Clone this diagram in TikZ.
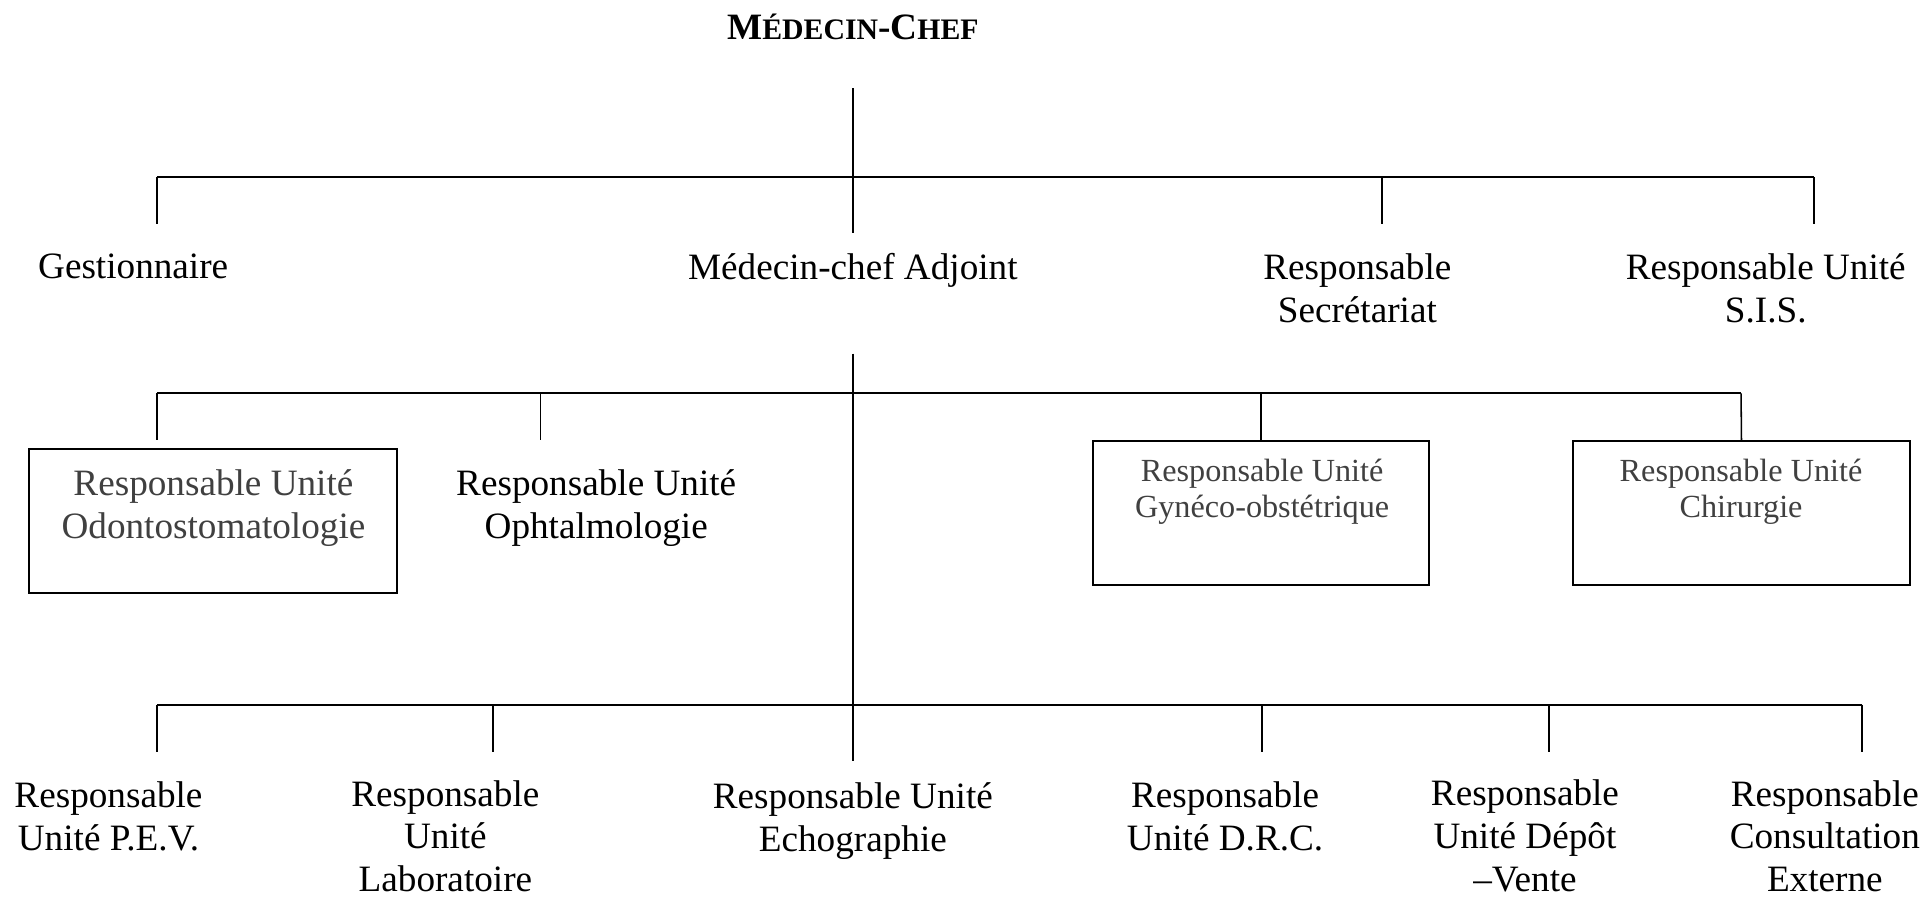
\documentclass[tikz,border=0pt]{standalone}
\usepackage{fontspec}
\setmainfont{Liberation Serif}
\usepackage{tikz}

\begin{document}
\begin{tikzpicture}[
    lbl/.style={align=center, inner sep=0pt, font=\fontsize{12}{13.8}\selectfont},
    grey/.style={align=center, inner sep=0pt, font=\fontsize{12}{13.8}\selectfont, text=black!75},
    small/.style={align=center, inner sep=0pt, font=\fontsize{10.4}{11.6}\selectfont, text=black!75},
    unitbox/.style={draw, line width=0.6pt, minimum height=1.63cm, inner sep=0pt},
    bar/.style={line width=0.7pt},
    stem/.style={line width=0.5pt}
]
\useasboundingbox (0,0) rectangle (21.86,10.17);

% Top
\node[font=\bfseries\fontsize{12}{14}\selectfont] (chef) at (9.67,9.86)
    {M{\fontsize{9.6}{12}\selectfont ÉDECIN}-C{\fontsize{9.6}{12}\selectfont HEF}};

% Row 1
\node[lbl] (gest) at (1.51,7.15)  {Gestionnaire};
\node[lbl] (adj)  at (9.67,7.11)  {Médecin-chef Adjoint};
\node[lbl] (secr) at (15.39,6.90) {Responsable\\Secrétariat};
\node[lbl] (sis)  at (20.02,6.90) {Responsable Unité\\S.I.S.};

% Row 2
\node[unitbox, minimum width=4.17cm] (odo)  at (2.415,4.265) {};
\node[grey]  (odotxt)  at (2.42,4.41)  {Responsable Unité\\Odontostomatologie};
\node[lbl]   (oph)     at (6.76,4.41)  {Responsable Unité\\Ophtalmologie};
\node[unitbox, minimum width=3.81cm] (gyn)  at (14.295,4.355) {};
\node[small] (gyntxt)  at (14.31,4.59) {Responsable Unité\\Gynéco-obstétrique};
\node[unitbox, minimum width=3.83cm] (chir) at (19.745,4.355) {};
\node[small] (chirtxt) at (19.74,4.59) {Responsable Unité\\Chirurgie};

% Row 3
\node[lbl] (pev)  at (1.23,0.91)  {Responsable\\Unité P.E.V.};
\node[lbl] (labo) at (5.05,0.69)  {Responsable\\Unité\\Laboratoire};
\node[lbl] (echo) at (9.67,0.86)  {Responsable Unité\\Echographie};
\node[lbl] (drc)  at (13.89,0.91) {Responsable\\Unité D.R.C.};
\node[lbl] (dep)  at (17.29,0.69) {Responsable\\Unité Dépôt\\–Vente};
\node[lbl] (cons) at (20.69,0.69) {Responsable\\Consultation\\Externe};

% Junction points
\coordinate (s1top) at (9.67,9.17);
\coordinate (s1bot) at (9.67,7.53);
\coordinate (b1l)   at (1.78,8.16);
\coordinate (b1r)   at (20.57,8.16);
\coordinate (d1a)   at (1.78,7.63);
\coordinate (b1s)   at (15.67,8.16);
\coordinate (d1s)   at (15.67,7.63);
\coordinate (d1r)   at (20.57,7.63);

\coordinate (s2top) at (9.67,6.16);
\coordinate (s2bot) at (9.67,1.54);
\coordinate (b2l)   at (1.78,5.71);
\coordinate (b2r)   at (19.74,5.71);
\coordinate (d2a)   at (1.78,5.18);
\coordinate (b2o)   at (6.13,5.71);
\coordinate (d2o)   at (6.13,5.18);

\coordinate (b3l)   at (1.78,2.18);
\coordinate (b3r)   at (21.11,2.18);
\coordinate (d3a)   at (1.78,1.64);
\coordinate (b3b)   at (5.59,2.18);
\coordinate (d3b)   at (5.59,1.64);
\coordinate (b3c)   at (14.31,2.18);
\coordinate (d3c)   at (14.31,1.64);
\coordinate (b3d)   at (17.56,2.18);
\coordinate (d3d)   at (17.56,1.64);
\coordinate (d3e)   at (21.11,1.64);

% Level 1
\draw[stem] (s1top) -- (s1bot);
\draw[bar]  (b1l) -- (b1r);
\draw[stem] (b1l) -- (d1a);
\draw[stem] (b1s) -- (d1s);
\draw[stem] (b1r) -- (d1r);

% Level 2
\draw[stem] (s2top) -- (s2bot);
\draw[bar]  (b2l) -- (b2r);
\draw[stem] (b2l) -- (d2a);
\draw[stem] (b2o) -- (d2o);
\draw[stem] (gyn.north |- b2l) -- (gyn.north);
\draw[stem] (b2r) -- (chir.north);

% Level 3
\draw[bar]  (b3l) -- (b3r);
\draw[stem] (b3l) -- (d3a);
\draw[stem] (b3b) -- (d3b);
\draw[stem] (b3c) -- (d3c);
\draw[stem] (b3d) -- (d3d);
\draw[stem] (b3r) -- (d3e);
\end{tikzpicture}
\end{document}
